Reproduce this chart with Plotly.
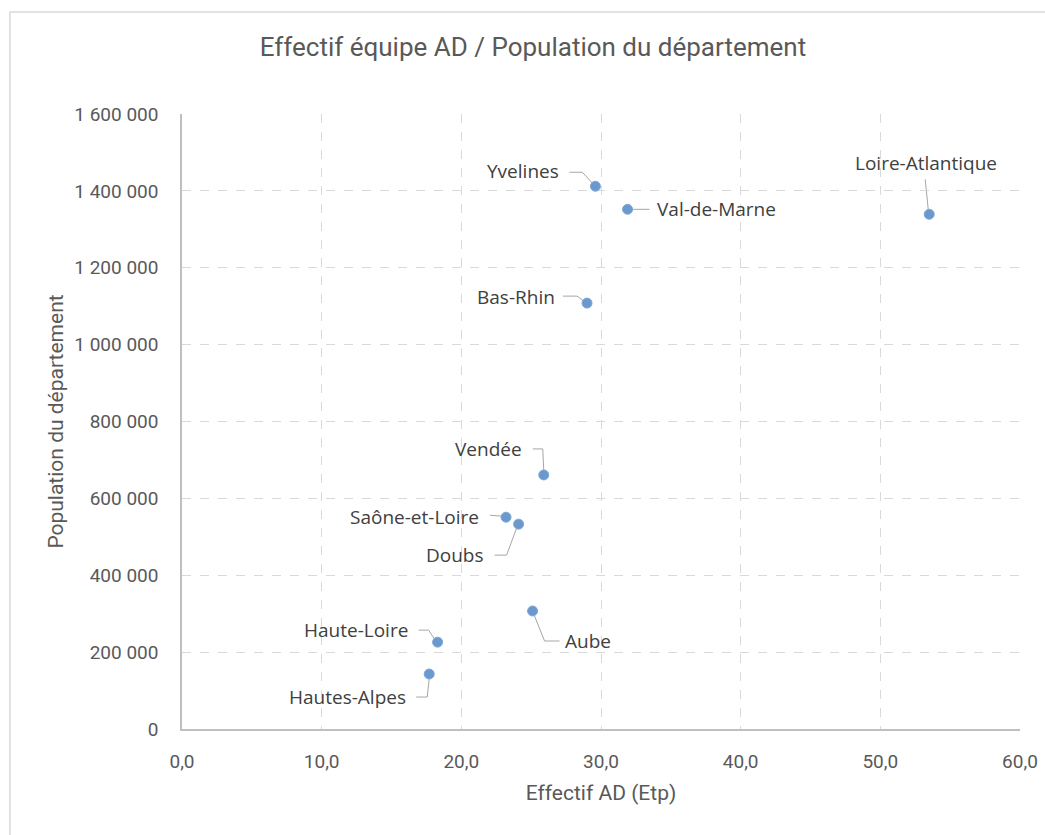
import plotly.graph_objects as go

# Départements: effectif AD (ETP) vs population
departements = ["Yvelines", "Val-de-Marne", "Loire-Atlantique", "Bas-Rhin", "Vendée",
                "Saône-et-Loire", "Doubs", "Aube", "Haute-Loire", "Hautes-Alpes"]
effectif_etp = [29.6, 31.9, 53.5, 29.0, 25.9, 23.2, 24.1, 25.1, 18.3, 17.7]
population = [1412000, 1352000, 1339000, 1108000, 661000, 551000, 533000, 307000, 226000, 143000]

x_ticks = [0, 10, 20, 30, 40, 50, 60]
y_ticks = [0, 200000, 400000, 600000, 800000, 1000000, 1200000, 1400000, 1600000]

# Label placement (screen pixels, y downward) relative to each point:
# text offset, text anchor, and the elbow leader line path
label_layout = {
    "Yvelines":         dict(dx=-34, dy=-15, anchor="right",  leader=[(-26, -14), (-13, -14), (-3, -3)]),
    "Val-de-Marne":     dict(dx=27,  dy=0,   anchor="left",   leader=[(5, 0), (22, 0)]),
    "Loire-Atlantique": dict(dx=-3,  dy=-51, anchor="center", leader=[(-4, -35), (-1, -5)]),
    "Bas-Rhin":         dict(dx=-30, dy=-6,  anchor="right",  leader=[(-24, -7), (-10, -7), (-3, -2)]),
    "Vendée":           dict(dx=-20, dy=-26, anchor="right",  leader=[(-11, -26), (-1, -26), (0, -5)]),
    "Saône-et-Loire":   dict(dx=-25, dy=0,   anchor="right",  leader=[(-16, -2), (-4, -1)]),
    "Doubs":            dict(dx=-33, dy=31,  anchor="right",  leader=[(-24, 31), (-12, 31), (-2, 4)]),
    "Aube":             dict(dx=30,  dy=30,  anchor="left",   leader=[(2, 5), (12, 30), (27, 30)]),
    "Haute-Loire":      dict(dx=-28, dy=-12, anchor="right",  leader=[(-19, -12), (-9, -12), (-3, -3)]),
    "Hautes-Alpes":     dict(dx=-21, dy=23,  anchor="right",  leader=[(-13, 23), (-2, 23), (0, 5)]),
}

TEXT_GREY = "#595959"
GRID_GREY = "#d9d9d9"
AXIS_FONT = "Roboto, sans-serif"
LABEL_FONT = "Open Sans, Noto Sans, sans-serif"

fig = go.Figure()
fig.add_trace(go.Scatter(
    x=effectif_etp, y=population, mode="markers",
    marker=dict(size=10, color="#6b98cd", line=dict(width=1, color="#7fa8d8")),
    hoverinfo="text", text=departements, showlegend=False,
))

shapes = []
annotations = []
for name, xv, yv in zip(departements, effectif_etp, population):
    cfg = label_layout[name]
    annotations.append(dict(
        x=xv, y=yv, xref="x", yref="y", text=name, showarrow=False,
        xshift=cfg["dx"], yshift=-cfg["dy"], xanchor=cfg["anchor"], yanchor="middle",
        font=dict(family=LABEL_FONT, size=19, color="#404040"),
    ))
    path = "M " + " L ".join(f"{px},{-py}" for px, py in cfg["leader"])
    shapes.append(dict(
        type="path", path=path, xref="x", yref="y",
        xsizemode="pixel", ysizemode="pixel", xanchor=xv, yanchor=yv,
        line=dict(color="#a6a6a6", width=1), layer="below",
    ))

# chart area border
shapes.append(dict(type="rect", xref="paper", yref="paper",
                   x0=-0.2053, x1=1.2, y0=-0.4, y1=1.166,
                   line=dict(color=GRID_GREY, width=1.5), fillcolor="rgba(0,0,0,0)", layer="below"))

fig.update_layout(
    width=1045, height=835,
    margin=dict(l=182, r=25, t=114, b=106, autoexpand=False),
    paper_bgcolor="white", plot_bgcolor="white",
    separators=", ",
    title=dict(text="Effectif équipe AD / Population du département",
               x=0.51, xanchor="center", xref="container", y=0.944, yanchor="middle",
               font=dict(family=AXIS_FONT, size=26, color=TEXT_GREY)),
    xaxis=dict(
        range=[0, 60], tickvals=x_ticks, tickformat=".1f", automargin=False,
        showgrid=True, gridcolor=GRID_GREY, griddash="dash", gridwidth=1,
        showline=True, linecolor="#bfbfbf", linewidth=1.5, zeroline=False,
        ticks="", ticklabelstandoff=14,
        tickfont=dict(family=AXIS_FONT, size=19, color=TEXT_GREY),
        title=dict(text="Effectif AD (Etp)", standoff=14,
                   font=dict(family=AXIS_FONT, size=21, color=TEXT_GREY)),
    ),
    yaxis=dict(
        range=[0, 1600000], tickvals=y_ticks, tickformat=",.0f", automargin=False,
        showgrid=True, gridcolor=GRID_GREY, griddash="dash", gridwidth=1,
        showline=True, linecolor="#bfbfbf", linewidth=1.5, zeroline=False,
        ticks="", ticklabelstandoff=18,
        tickfont=dict(family=AXIS_FONT, size=19, color=TEXT_GREY),
        title=dict(text="Population du département", standoff=5,
                   font=dict(family=AXIS_FONT, size=21, color=TEXT_GREY)),
    ),
    shapes=shapes,
    annotations=annotations,
)

fig.write_html("out.html")
